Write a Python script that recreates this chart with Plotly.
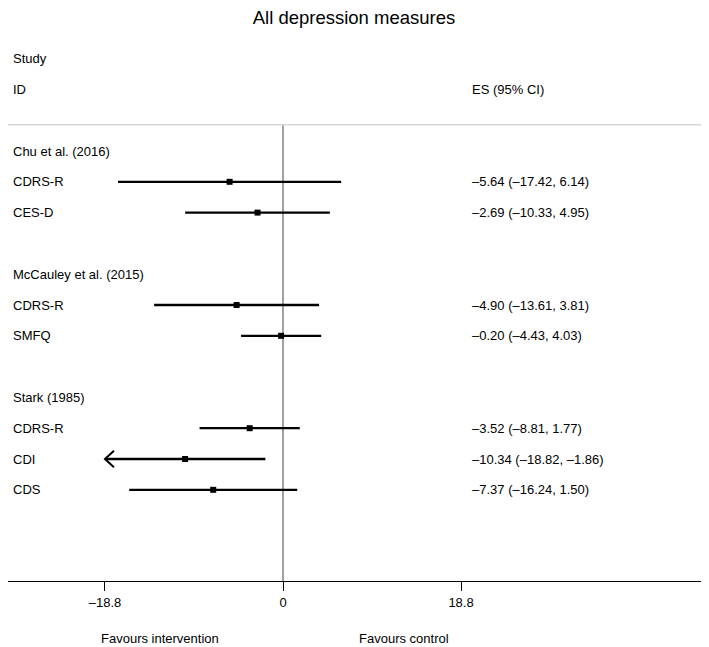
import plotly.graph_objects as go

# forest plot data
studies = ["Chu et al. (2016)", "McCauley et al. (2015)", "Stark (1985)"]
measures = [["CDRS-R", "CES-D"], ["CDRS-R", "SMFQ"], ["CDRS-R", "CDI", "CDS"]]
es = [-5.64, -2.69, -4.90, -0.20, -3.52, -10.34, -7.37]
ci_low = [-17.42, -10.33, -13.61, -4.43, -8.81, -18.82, -16.24]
ci_high = [6.14, 4.95, 3.81, 4.03, 1.77, -1.86, 1.50]
tick_vals = [-18.8, 0, 18.8]
tick_text = ["–18.8", "0", "18.8"]

# the page body adds an 8px margin, so the figure is 8px smaller each way
W, H = 701, 639
x_min = tick_vals[0]
PX = 9.47          # pixels per unit on the x axis
X0 = 275           # pixel of x = 0
FONT = "Liberation Sans, Arial, sans-serif"


def fmt(v):
    return f"{v:.2f}".replace("-", "–")


# lay out the rows: study header, its measures, then a blank row
header_rows = []
meas_rows = []
meas_names = []
row = 0
for s, ms in zip(studies, measures):
    header_rows.append(row)
    row += 1
    for m in ms:
        meas_rows.append(row)
        meas_names.append(m)
        row += 1
    row += 1

fig = go.Figure()

# confidence interval lines (clipped at the axis minimum, with an arrow)
for i, r in enumerate(meas_rows):
    lo = max(ci_low[i], x_min)
    fig.add_trace(go.Scatter(x=[lo, ci_high[i]], y=[r, r], mode="lines",
                             line=dict(color="black", width=2.3),
                             hoverinfo="skip", showlegend=False))
    if ci_low[i] < x_min:
        fig.add_trace(go.Scatter(x=[x_min + 0.95, x_min, x_min + 0.95],
                                 y=[r - 0.27, r, r + 0.27], mode="lines",
                                 line=dict(color="black", width=2),
                                 hoverinfo="skip", showlegend=False))

fig.add_trace(go.Scatter(x=es, y=meas_rows, mode="markers",
                         marker=dict(symbol="square", size=6, color="black"),
                         showlegend=False))

# no-effect line and header rule
fig.add_shape(type="line", xref="x", yref="y", x0=0, x1=0, y0=-0.85, y1=13.96,
              line=dict(color="#555555", width=1.1), layer="below")
fig.add_shape(type="line", xref="paper", yref="y", x0=0, x1=1, y0=-0.85, y1=-0.85,
              line=dict(color="#d6d6d6", width=1.6))

ann = []


def left_text(txt, xp, y):
    ann.append(dict(text=txt, x=xp / W, xref="paper", y=y, yref="y",
                    xanchor="left", yanchor="middle", showarrow=False,
                    font=dict(size=13, color="black", family=FONT)))


left_text("Study", 3, -3)
left_text("ID", 3, -2)
left_text("ES (95% CI)", 462, -2)
for s, r in zip(studies, header_rows):
    left_text(s, 3, r)
for i, r in enumerate(meas_rows):
    left_text(meas_names[i], 3, r)
    left_text(f"{fmt(es[i])} ({fmt(ci_low[i])}, {fmt(ci_high[i])})", 462, r)

plot_h = H - 66
for txt, xp in [("Favours intervention", 91), ("Favours control", 349)]:
    ann.append(dict(text=txt, x=xp / W, xref="paper", y=-(630 - plot_h) / plot_h, yref="paper",
                    xanchor="left", yanchor="middle", showarrow=False,
                    font=dict(size=13, color="black", family=FONT)))

fig.update_layout(
    width=W, height=H,
    margin=dict(l=0, r=0, t=0, b=66),
    plot_bgcolor="white", paper_bgcolor="white",
    title=dict(text="All depression measures", x=(354 - 8) / W, xanchor="center",
               y=1 - 3 / H, yanchor="top", pad=dict(t=0),
               font=dict(size=18.5, color="black", family=FONT)),
    annotations=ann,
    xaxis=dict(range=[-X0 / PX, (W - X0) / PX], tickvals=tick_vals, ticktext=tick_text,
               showgrid=False, zeroline=False, showline=True, linecolor="black", linewidth=1.4,
               ticks="outside", ticklen=9, tickcolor="black", tickwidth=1,
               tickfont=dict(size=13, color="black", family=FONT)),
    yaxis=dict(range=[(plot_h - 143) / 30.8, -143 / 30.8], visible=False,
               showgrid=False, zeroline=False),
)

fig.write_html("out.html")
